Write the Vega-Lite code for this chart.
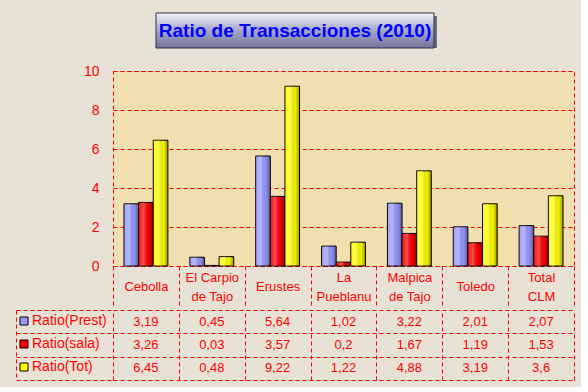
{
  "$schema": "https://vega.github.io/schema/vega-lite/v6.json",
  "background": "#e8e2d6",
  "padding": {"left": 15, "top": 12, "right": 6, "bottom": 6},
  "config": {
    "font": "Liberation Sans",
    "locale": {"number": {"decimal": ",", "thousands": ".", "grouping": [3], "currency": ["", " €"]}}
  },
  "datasets": {
    "titulo": [{"texto": "Ratio de Transacciones (2010)"}],
    "ratios": [
      {"Municipio": "Cebolla", "Serie": "Ratio(Prest)", "Ratio": 3.19},
      {"Municipio": "Cebolla", "Serie": "Ratio(sala)", "Ratio": 3.26},
      {"Municipio": "Cebolla", "Serie": "Ratio(Tot)", "Ratio": 6.45},
      {"Municipio": "El Carpio de Tajo", "Serie": "Ratio(Prest)", "Ratio": 0.45},
      {"Municipio": "El Carpio de Tajo", "Serie": "Ratio(sala)", "Ratio": 0.03},
      {"Municipio": "El Carpio de Tajo", "Serie": "Ratio(Tot)", "Ratio": 0.48},
      {"Municipio": "Erustes", "Serie": "Ratio(Prest)", "Ratio": 5.64},
      {"Municipio": "Erustes", "Serie": "Ratio(sala)", "Ratio": 3.57},
      {"Municipio": "Erustes", "Serie": "Ratio(Tot)", "Ratio": 9.22},
      {"Municipio": "La Pueblanueva", "Serie": "Ratio(Prest)", "Ratio": 1.02},
      {"Municipio": "La Pueblanueva", "Serie": "Ratio(sala)", "Ratio": 0.2},
      {"Municipio": "La Pueblanueva", "Serie": "Ratio(Tot)", "Ratio": 1.22},
      {"Municipio": "Malpica de Tajo", "Serie": "Ratio(Prest)", "Ratio": 3.22},
      {"Municipio": "Malpica de Tajo", "Serie": "Ratio(sala)", "Ratio": 1.67},
      {"Municipio": "Malpica de Tajo", "Serie": "Ratio(Tot)", "Ratio": 4.88},
      {"Municipio": "Toledo", "Serie": "Ratio(Prest)", "Ratio": 2.01},
      {"Municipio": "Toledo", "Serie": "Ratio(sala)", "Ratio": 1.19},
      {"Municipio": "Toledo", "Serie": "Ratio(Tot)", "Ratio": 3.19},
      {"Municipio": "Total CLM", "Serie": "Ratio(Prest)", "Ratio": 2.07},
      {"Municipio": "Total CLM", "Serie": "Ratio(sala)", "Ratio": 1.53},
      {"Municipio": "Total CLM", "Serie": "Ratio(Tot)", "Ratio": 3.6}
    ]
  },
  "spacing": 14,
  "vconcat": [
    {
      "spacing": 0,
      "hconcat": [
        {
          "data": {"name": "titulo"},
          "width": 42,
          "height": 35,
          "view": {"stroke": null},
          "mark": {"type": "rect", "opacity": 0},
          "encoding": {}
        },
        {
          "data": {"name": "titulo"},
          "width": 278,
          "height": 35,
          "view": {"stroke": null},
          "layer": [
            {
              "mark": {"type": "rect", "fill": "#6c6c80", "xOffset": 3, "x2Offset": 3, "yOffset": 3, "y2Offset": 3},
              "encoding": {}
            },
            {
              "mark": {
                "type": "rect",
                "stroke": "#303040",
                "strokeWidth": 1,
                "fill": {
                  "gradient": "linear", "x1": 0, "y1": 0, "x2": 0, "y2": 1,
                  "stops": [
                    {"offset": 0, "color": "#f4f4fa"},
                    {"offset": 0.5, "color": "#a6a6c8"},
                    {"offset": 1, "color": "#74749a"}
                  ]
                }
              },
              "encoding": {}
            },
            {
              "mark": {"type": "text", "color": "#0000ff", "fontSize": 19, "fontWeight": "bold", "font": "Liberation Sans"},
              "encoding": {"text": {"field": "texto", "type": "nominal"}}
            }
          ]
        }
      ]
    },
    {
      "spacing": 0,
      "vconcat": [
        {
          "data": {"name": "ratios"},
          "width": 461,
          "height": 195,
          "view": {"fill": "#f2dfb0", "stroke": "#ff0000", "strokeDash": [4, 3], "strokeWidth": 1},
          "encoding": {
            "x": {
              "field": "Municipio", "type": "nominal",
              "scale": {"domain": ["Cebolla", "El Carpio de Tajo", "Erustes", "La Pueblanueva", "Malpica de Tajo", "Toledo", "Total CLM"], "paddingInner": 0, "paddingOuter": 0},
              "axis": {
                "title": null, "domain": false, "ticks": true, "tickBand": "extent", "tickSize": 42,
                "tickColor": "#ff0000", "tickDash": [4, 3], "tickWidth": 1,
                "labelColor": "#ff0000", "labelFontSize": 13,
                "labelPadding": {"condition": {"test": "indexof(['El Carpio de Tajo', 'La Pueblanueva', 'Malpica de Tajo', 'Total CLM'], datum.value) >= 0", "value": -30.5}, "value": -21.5},
                "labelBaseline": "middle",
                "labelLineHeight": 19, "labelAngle": 0, "labelOverlap": false, "labelLimit": 0,
                "labelExpr": "datum.label == 'El Carpio de Tajo' ? ['El Carpio', 'de Tajo'] : datum.label == 'La Pueblanueva' ? ['La', 'Pueblanu'] : datum.label == 'Malpica de Tajo' ? ['Malpica', 'de Tajo'] : datum.label == 'Total CLM' ? ['Total', 'CLM'] : datum.label"
              }
            },
            "xOffset": {
              "field": "Serie", "type": "nominal",
              "scale": {"domain": ["Ratio(Prest)", "Ratio(sala)", "Ratio(Tot)"], "paddingInner": 0, "paddingOuter": 0.75}
            },
            "y": {
              "field": "Ratio", "type": "quantitative",
              "scale": {"domain": [0, 10], "nice": false},
              "axis": {
                "values": [0, 2, 4, 6, 8, 10], "title": null, "domain": false, "ticks": false,
                "grid": true, "gridColor": "#ff0000", "gridDash": [4, 3],
                "labelColor": "#ff0000", "labelFontSize": 14, "labelPadding": 14
              }
            }
          },
          "layer": [
            {
              "mark": {"type": "bar", "stroke": "#000000", "strokeWidth": 1},
              "encoding": {
                "color": {
                  "field": "Serie", "type": "nominal",
                  "scale": {"domain": ["Ratio(Prest)", "Ratio(sala)", "Ratio(Tot)"], "range": ["#9999ff", "#ff0000", "#ffff00"]},
                  "legend": {
                    "orient": "none", "legendX": -96, "legendY": 301, "title": null,
                    "symbolType": "square", "symbolSize": 64, "symbolStrokeColor": "#000000", "symbolStrokeWidth": 1,
                    "symbolOpacity": 1, "labelColor": "#ff0000", "labelFontSize": 14, "rowPadding": 9, "labelOffset": 1
                  }
                }
              }
            },
            {
              "mark": {
                "type": "bar", "strokeWidth": 0,
                "fill": {
                  "gradient": "linear", "x1": 0, "y1": 0, "x2": 1, "y2": 0,
                  "stops": [
                    {"offset": 0, "color": "rgba(255,255,255,0.05)"},
                    {"offset": 0.35, "color": "rgba(255,255,255,0.3)"},
                    {"offset": 0.7, "color": "rgba(0,0,0,0.05)"},
                    {"offset": 1, "color": "rgba(0,0,0,0.4)"}
                  ]
                }
              }
            }
          ]
        },
        {
          "data": {"name": "ratios"},
          "width": 461,
          "height": 70,
          "view": {"stroke": null},
          "mark": {"type": "text", "color": "#ff0000", "fontSize": 13},
          "encoding": {
            "x": {
              "field": "Municipio", "type": "nominal",
              "scale": {"domain": ["Cebolla", "El Carpio de Tajo", "Erustes", "La Pueblanueva", "Malpica de Tajo", "Toledo", "Total CLM"], "paddingInner": 0, "paddingOuter": 0},
              "axis": {"title": null, "labels": false, "ticks": false, "domain": false, "grid": true, "gridColor": "#ff0000", "gridDash": [4, 3], "tickBand": "extent"}
            },
            "y": {
              "field": "Serie", "type": "nominal",
              "scale": {"domain": ["Ratio(Prest)", "Ratio(sala)", "Ratio(Tot)"], "paddingInner": 0, "paddingOuter": 0},
              "axis": {
                "title": null, "labels": false, "grid": true, "gridColor": "#ff0000", "gridDash": [4, 3], "tickBand": "extent",
                "ticks": true, "tickSize": -97, "tickColor": "#ff0000", "tickDash": [4, 3], "offset": 97,
                "domain": true, "domainColor": "#ff0000", "domainDash": [4, 3]
              }
            },
            "text": {"field": "Ratio", "type": "quantitative", "format": ".2~f"}
          }
        }
      ]
    }
  ]
}
